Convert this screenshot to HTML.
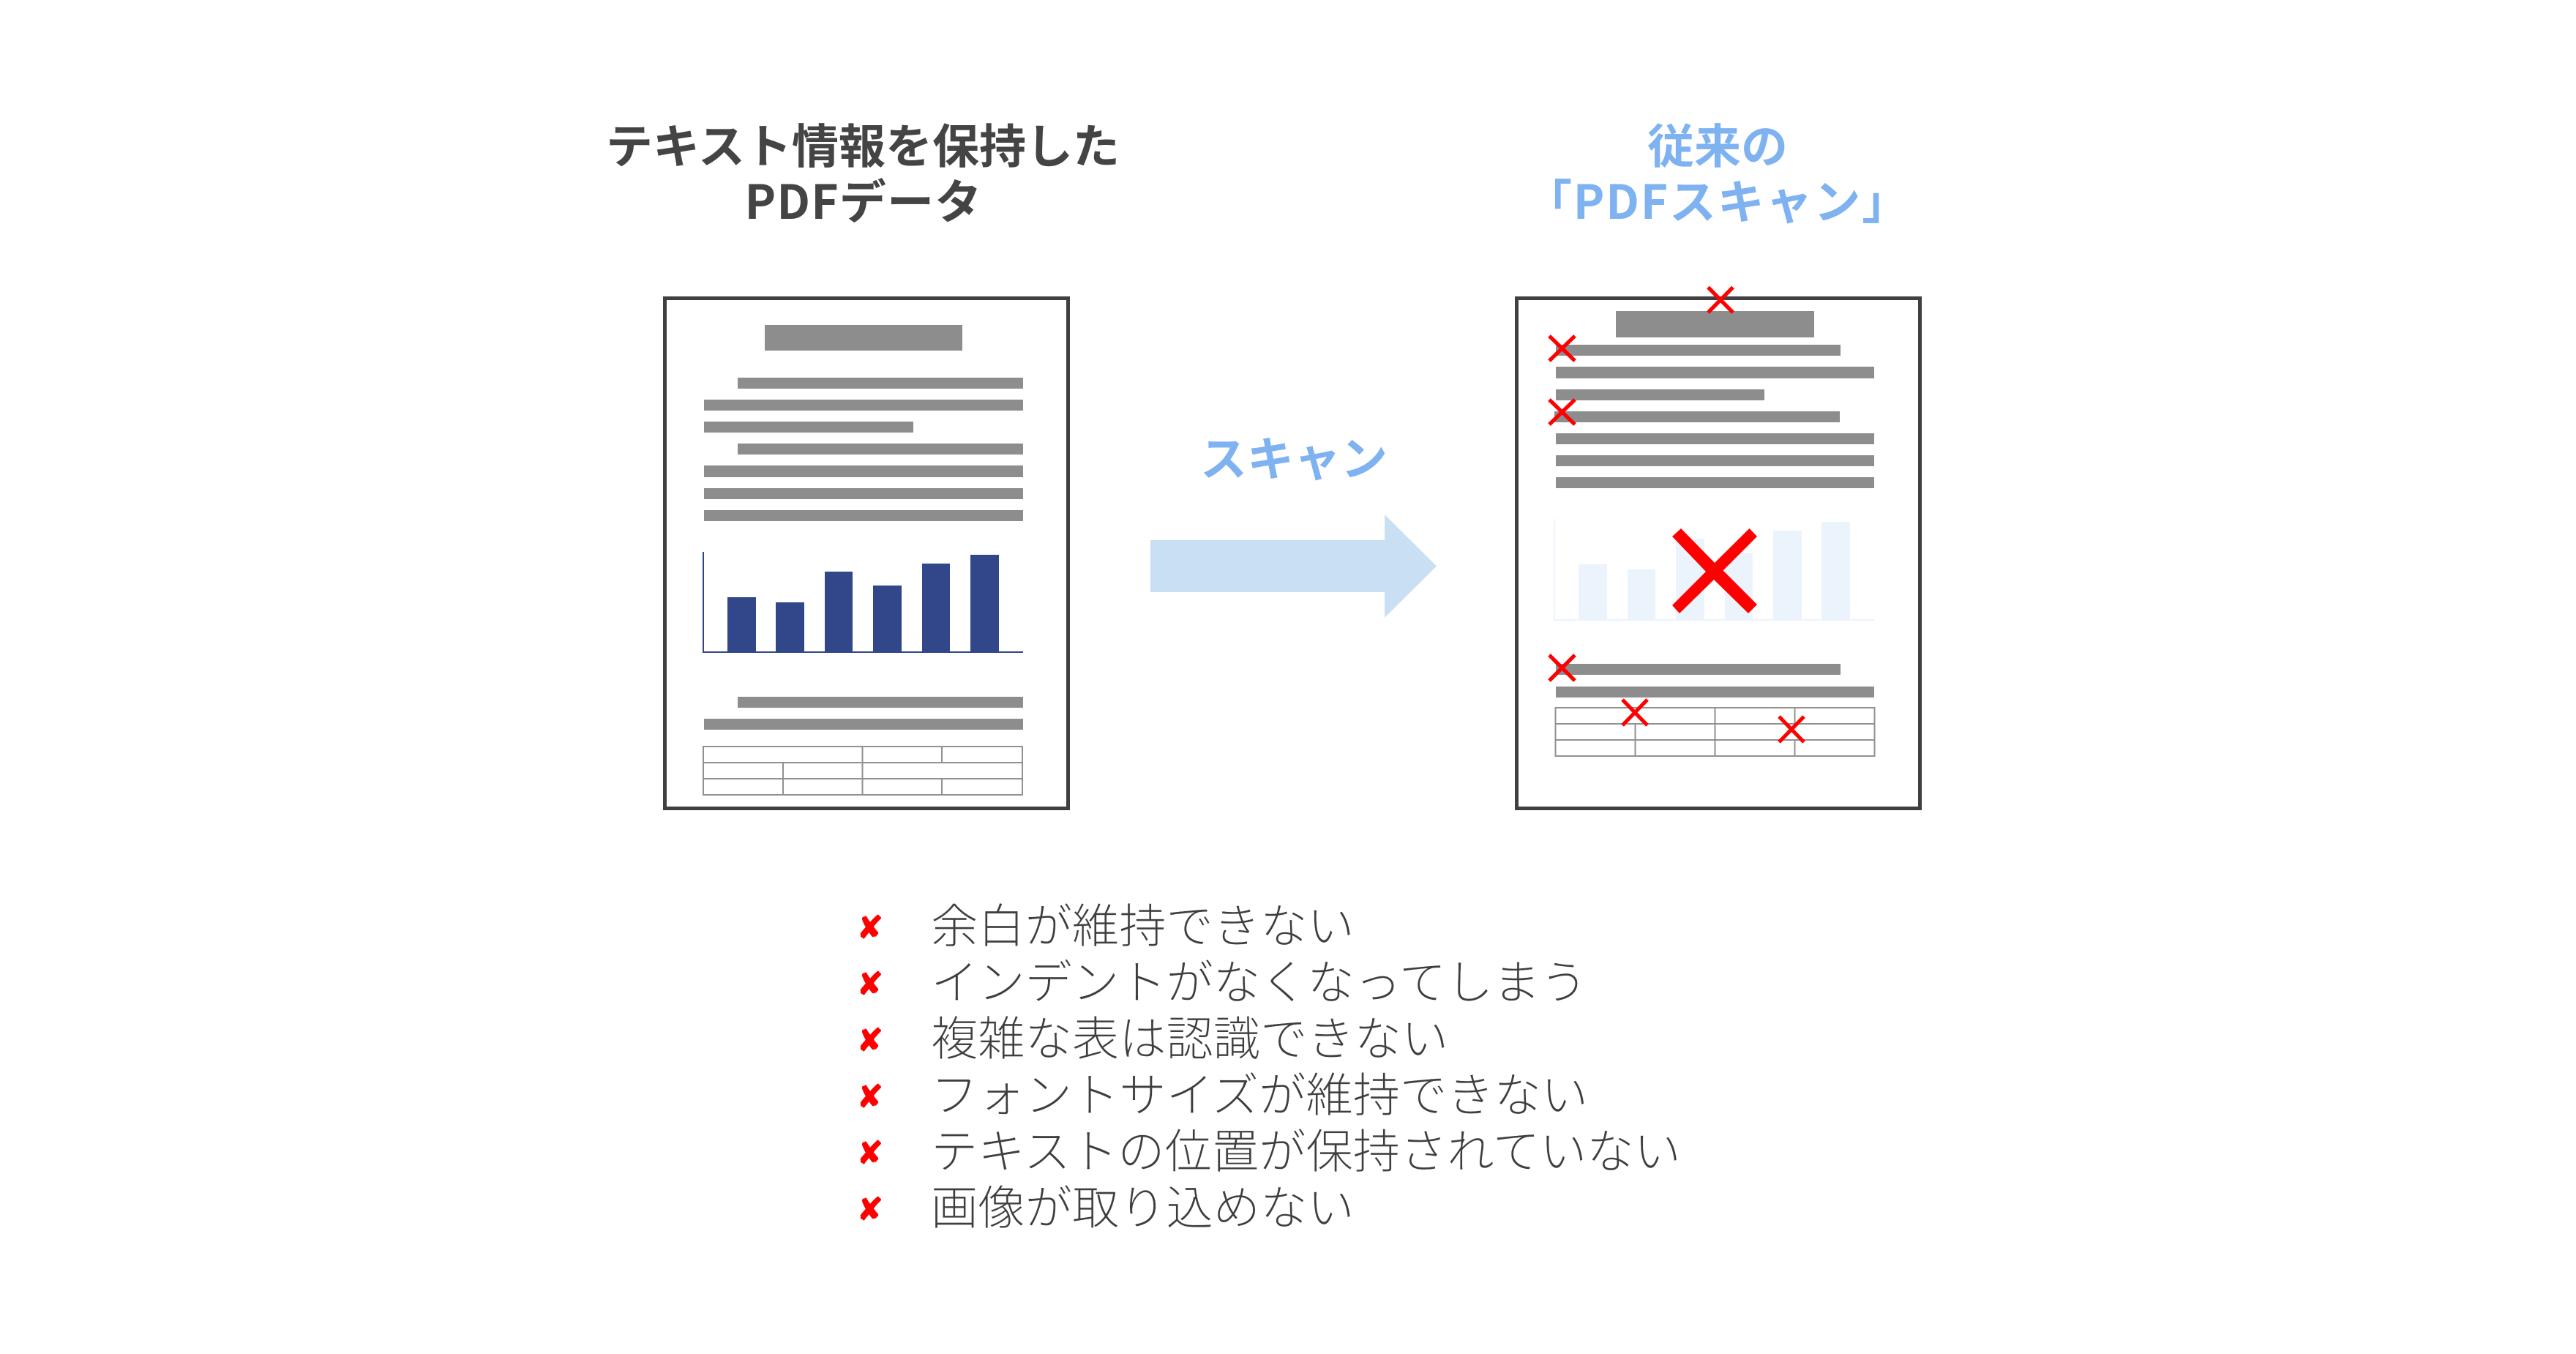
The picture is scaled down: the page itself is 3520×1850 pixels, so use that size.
<!DOCTYPE html>
<html lang="ja"><head><meta charset="utf-8"><style>
html,body{margin:0;padding:0;background:#fff;width:3520px;height:1850px;overflow:hidden}
svg{display:block}
text{font-family:"Liberation Sans","Noto Sans CJK JP",sans-serif}
.h{font-family:"Noto Sans CJK JP",sans-serif;font-weight:700;font-size:64px;text-anchor:middle}
.li{font-family:"Noto Sans CJK JP",sans-serif;font-weight:300;font-size:64.3px;fill:#3e3e3e;stroke:#fff;stroke-width:.35px;paint-order:fill}
.m{font-family:"DejaVu Sans",sans-serif;font-size:43px;fill:#f00;stroke:#f00;stroke-width:1.2px;text-anchor:middle}
</style></head><body>
<svg width="3520" height="1850" viewBox="0 0 3520 1850" xmlns="http://www.w3.org/2000/svg">
<rect width="3520" height="1850" fill="#fff"/>
<text class="h" x="1179" y="223" fill="#444">テキスト情報を保持した</text>
<text class="h" x="1180" y="299" fill="#444" letter-spacing="1.2">PDFデータ</text>
<text class="h" x="2347" y="223" fill="#7fb2f0">従来の</text>
<text class="h" x="2347" y="299" fill="#7fb2f0" letter-spacing="1.8">「PDFスキャン」</text>
<text class="h" x="1768" y="650" fill="#7fb2f0">スキャン</text>
<polygon points="1572,738 1892,738 1892,703 1963,773.5 1892,844 1892,809 1572,809" fill="#c9dff3"/>

<rect x="908.5" y="407.5" width="551" height="697" fill="#fff" stroke="#404040" stroke-width="5"/>
<g fill="#8d8d8d">
<rect x="1045" y="444" width="270" height="35"/>
<rect x="1008" y="516" width="390" height="15"/>
<rect x="962" y="546" width="436" height="15"/>
<rect x="962" y="576" width="286" height="15"/>
<rect x="1008" y="606" width="390" height="15"/>
<rect x="962" y="636" width="436" height="16"/>
<rect x="962" y="667" width="436" height="15"/>
<rect x="962" y="697" width="436" height="15"/>
<rect x="1008" y="952" width="390" height="15"/>
<rect x="962" y="982" width="436" height="15"/>
</g>
<g fill="#32468a">
<rect x="960" y="754" width="2" height="138"/>
<rect x="960" y="890" width="438" height="2"/>
<rect x="994" y="816" width="39" height="76"/>
<rect x="1060" y="823" width="39" height="69"/>
<rect x="1127" y="781" width="38" height="111"/>
<rect x="1193" y="800" width="39" height="92"/>
<rect x="1260" y="770" width="38" height="122"/>
<rect x="1326" y="758" width="39" height="134"/>
</g>
<g stroke="#919191" stroke-width="2" fill="none">
<rect x="961" y="1020" width="436" height="66"/>
<path d="M961 1042H1397M961 1064H1397M1178.5 1020V1086M1287 1020V1042M1287 1064V1086M1070 1042V1086"/>
</g>

<rect x="2072.5" y="407.5" width="551" height="697" fill="#fff" stroke="#404040" stroke-width="5"/>
<g fill="#8d8d8d">
<rect x="2208" y="425" width="271" height="36"/>
<rect x="2126" y="471" width="389" height="15"/>
<rect x="2126" y="501" width="435" height="16"/>
<rect x="2126" y="532" width="285" height="15"/>
<rect x="2124" y="562" width="390" height="15"/>
<rect x="2126" y="592" width="435" height="15"/>
<rect x="2126" y="622" width="435" height="15"/>
<rect x="2126" y="652" width="435" height="15"/>
<rect x="2126" y="907" width="389" height="15"/>
<rect x="2126" y="938" width="435" height="15"/>
</g>
<g fill="#ebf3fc">
<rect x="2123" y="709" width="2" height="139"/>
<rect x="2123" y="846" width="438" height="2"/>
<rect x="2157" y="771" width="39" height="76"/>
<rect x="2224" y="778" width="38" height="69"/>
<rect x="2290" y="736" width="39" height="111"/>
<rect x="2357" y="756" width="38" height="91"/>
<rect x="2423" y="725" width="39" height="122"/>
<rect x="2489" y="713" width="39" height="134"/>
</g>
<g stroke="#919191" stroke-width="2" fill="none">
<rect x="2125.5" y="967" width="436" height="66"/>
<path d="M2125.5 989H2561.5M2125.5 1011H2561.5M2343.5 967V1033M2452.5 967V989M2452.5 1011V1033M2234.5 989V1033"/>
</g>
<polygon fill="#f00" points="2297,722 2343,769 2390.5,722 2401,733 2354.6,779.5 2401,826 2389,838 2342,792 2295,838 2285,827 2331,781 2285,733"/>
<g stroke="#f00" stroke-width="5.2" fill="none">
<path d="M2334 392.5L2368 427M2368 392.5L2334 427"/>
<path d="M2117 459L2152 493M2152 459L2117 493"/>
<path d="M2117 546L2152 580M2152 546L2117 580"/>
<path d="M2117 895L2152 930M2152 895L2117 930"/>
<path d="M2217 956L2251 991M2251 956L2217 991"/>
<path d="M2431 979L2465 1014M2465 979L2431 1014"/>
</g>

<text class="m" x="1189" y="1282">✘</text>
<text class="m" x="1189" y="1359">✘</text>
<text class="m" x="1189" y="1436">✘</text>
<text class="m" x="1189" y="1513">✘</text>
<text class="m" x="1189" y="1590">✘</text>
<text class="m" x="1189" y="1667">✘</text>

<text class="li" x="1272" y="1288">余白が維持できない</text>
<text class="li" x="1272" y="1365">インデントがなくなってしまう</text>
<text class="li" x="1272" y="1442">複雑な表は認識できない</text>
<text class="li" x="1272" y="1519">フォントサイズが維持できない</text>
<text class="li" x="1272" y="1596">テキストの位置が保持されていない</text>
<text class="li" x="1272" y="1673">画像が取り込めない</text>
</svg>
</body></html>
